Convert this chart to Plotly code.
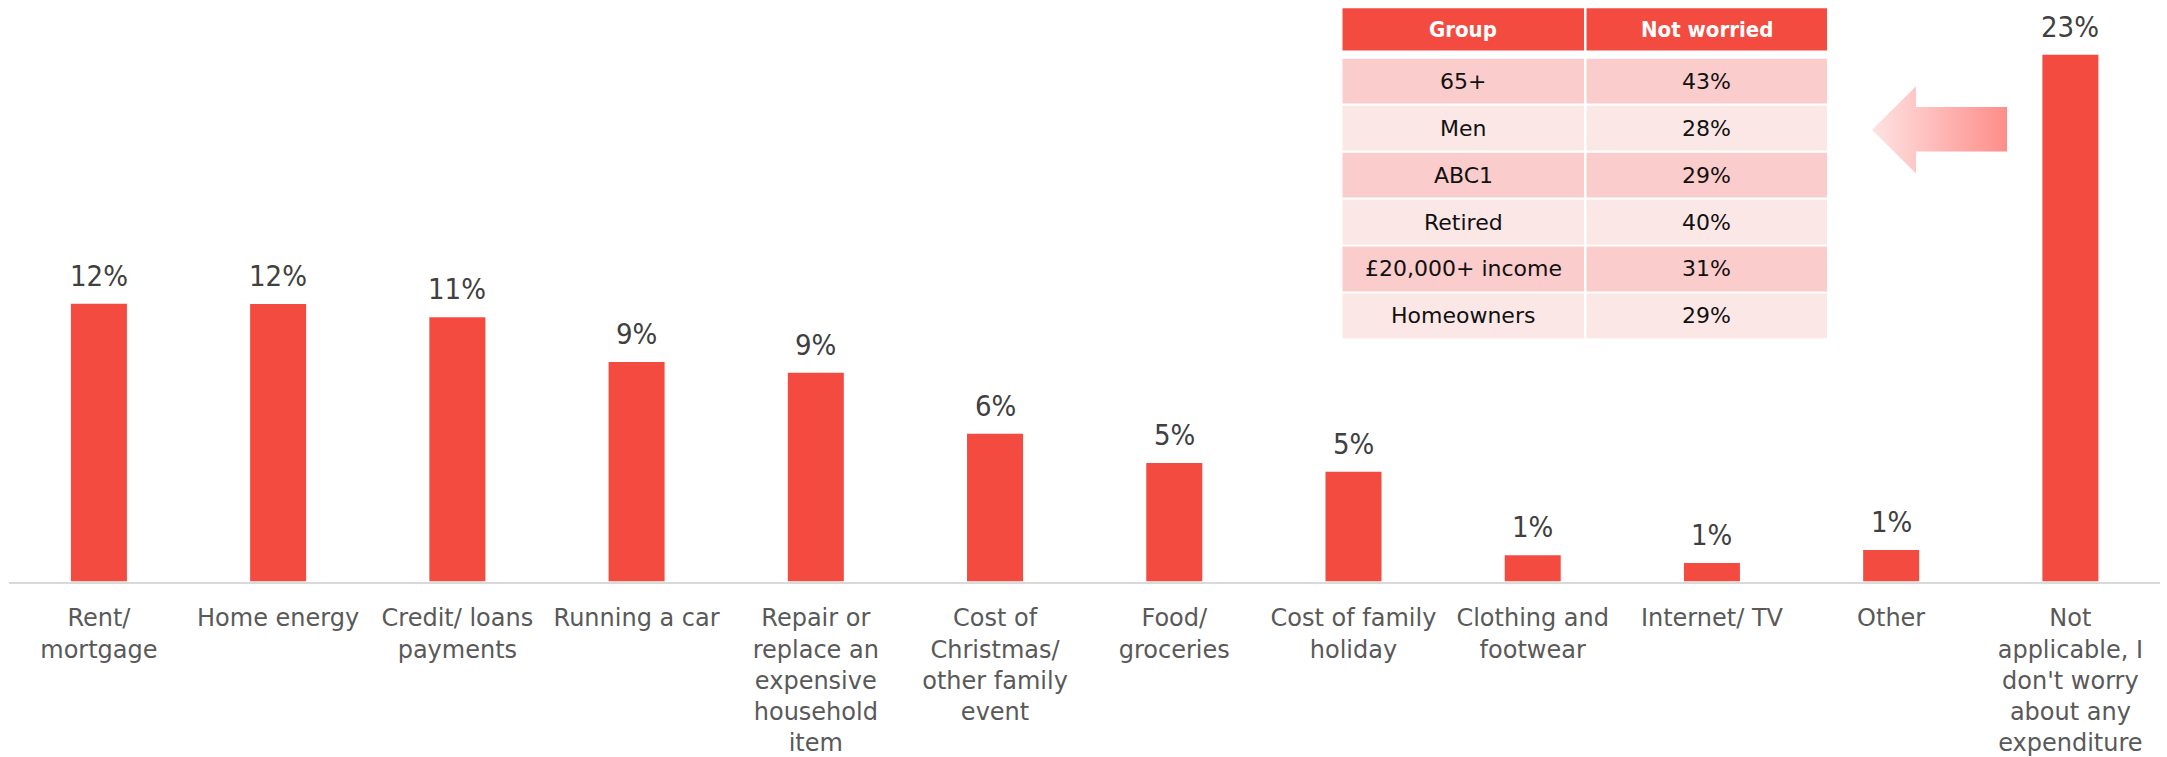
import plotly.graph_objects as go

# ---------------- data ----------------
categories = [
    "Rent/<br>mortgage",
    "Home energy",
    "Credit/ loans<br>payments",
    "Running a car",
    "Repair or<br>replace an<br>expensive<br>household<br>item",
    "Cost of<br>Christmas/<br>other family<br>event",
    "Food/<br>groceries",
    "Cost of family<br>holiday",
    "Clothing and<br>footwear",
    "Internet/ TV",
    "Other",
    "Not<br>applicable, I<br>don't worry<br>about any<br>expenditure",
]
values = [12.0, 11.99, 11.42, 9.49, 9.02, 6.39, 5.12, 4.74, 1.14, 0.80, 1.36, 22.76]
value_labels = ["12%", "12%", "11%", "9%", "9%", "6%", "5%", "5%", "1%", "1%", "1%", "23%"]

table_header = ["Group", "Not worried"]
groups = ["65+", "Men", "ABC1", "Retired", "£20,000+ income", "Homeowners"]
not_worried = ["43%", "28%", "29%", "40%", "31%", "29%"]

# ---------------- styling ----------------
W, H = 2167, 757
FONT = "DejaVu Sans, sans-serif"
FONT_C = "DejaVu Sans Condensed, DejaVu Sans, sans-serif"
RED = "#F44B41"
ROW_DARK = "#FACCCC"
ROW_LIGHT = "#FCE7E7"


def px(x):
    return x / W


def py(y):
    return 1 - y / H


fig = go.Figure()

fig.add_trace(go.Bar(
    x=categories,
    y=values,
    marker=dict(color=RED, line=dict(width=0)),
    width=0.3125,
    hoverinfo="skip",
    xaxis="x",
    yaxis="y",
))

# value labels above bars
annotations = []
for c, v, t in zip(categories, values, value_labels):
    annotations.append(dict(
        x=c, y=v, xref="x", yref="y", text=t, showarrow=False,
        yanchor="bottom", yshift=9,
        font=dict(family=FONT_C, size=29, color="#404040"),
    ))

# arrow with gradient (pixel overlay axes)
arrow_x = [1872, 1916, 1916, 2007, 2007, 1916, 1916, 1872]
arrow_y = [131, 87, 108, 108, 153, 153, 175, 131]
fig.add_trace(go.Scatter(
    x=arrow_x, y=arrow_y, mode="lines", fill="toself",
    line=dict(width=0, color="rgba(0,0,0,0)"),
    fillgradient=dict(type="horizontal",
                      colorscale=[[0, "#FEE3E3"], [1, "#FD8D89"]]),
    hoverinfo="skip", xaxis="x2", yaxis="y2", showlegend=False,
))

# table
shapes = []
col_x = [(1342.5, 1584), (1586.5, 1827)]
hdr_top, hdr_bot = 8.3, 51
for (x0, x1), h in zip(col_x, table_header):
    shapes.append(dict(type="rect", xref="paper", yref="paper",
                       x0=px(x0), x1=px(x1), y0=py(hdr_bot), y1=py(hdr_top),
                       fillcolor=RED, line=dict(width=0), layer="above"))
    annotations.append(dict(
        x=px((x0 + x1) / 2), y=py((hdr_top + hdr_bot) / 2), xref="paper", yref="paper",
        text="<b>" + h + "</b>", showarrow=False, xanchor="center", yanchor="middle",
        font=dict(family=FONT_C, size=22, color="white"),
    ))

row_top0, pitch, row_h = 59.3, 47.4, 45.2
for i, (g, n) in enumerate(zip(groups, not_worried)):
    top = row_top0 + i * pitch
    bot = top + row_h
    fill = ROW_DARK if i % 2 == 0 else ROW_LIGHT
    for (x0, x1), txt in zip(col_x, [g, n]):
        shapes.append(dict(type="rect", xref="paper", yref="paper",
                           x0=px(x0), x1=px(x1), y0=py(bot), y1=py(top),
                           fillcolor=fill, line=dict(width=0), layer="above"))
        annotations.append(dict(
            x=px((x0 + x1) / 2), y=py((top + bot) / 2), xref="paper", yref="paper",
            text=txt, showarrow=False, xanchor="center", yanchor="middle",
            font=dict(family=FONT, size=22, color="#111111"),
        ))

plot_left, plot_right = 9.3, 2160
plot_top, plot_bottom = 20, 587
yscale = 23.36  # px per percentage point

fig.update_layout(
    width=W, height=H,
    margin=dict(l=0, r=0, t=0, b=0),
    paper_bgcolor="white",
    plot_bgcolor="rgba(0,0,0,0)",
    showlegend=False,
    bargap=0.6875,
    font=dict(family=FONT, color="#595959"),
    xaxis=dict(
        domain=[px(plot_left), px(plot_right)],
        showline=True, linecolor="#D9D9D9", linewidth=2,
        showgrid=False, zeroline=False, ticks="",
        tickfont=dict(family=FONT, size=24, color="#595959"),
        ticklabelstandoff=14,
        fixedrange=True,
    ),
    yaxis=dict(
        domain=[py(plot_bottom), py(plot_top)],
        range=[0, (plot_bottom - plot_top) / yscale],
        visible=False, showgrid=False, zeroline=False, fixedrange=True,
    ),
    xaxis2=dict(domain=[0, 1], range=[0, W], visible=False, anchor="y2",
                fixedrange=True),
    yaxis2=dict(domain=[0, 1], range=[H, 0], visible=False, anchor="x2",
                fixedrange=True),
    shapes=shapes,
    annotations=annotations,
)

fig.write_html(
    "out.html",
    config={"displayModeBar": False},
    post_script="document.body.style.margin='0';document.body.style.padding='0';",
)
